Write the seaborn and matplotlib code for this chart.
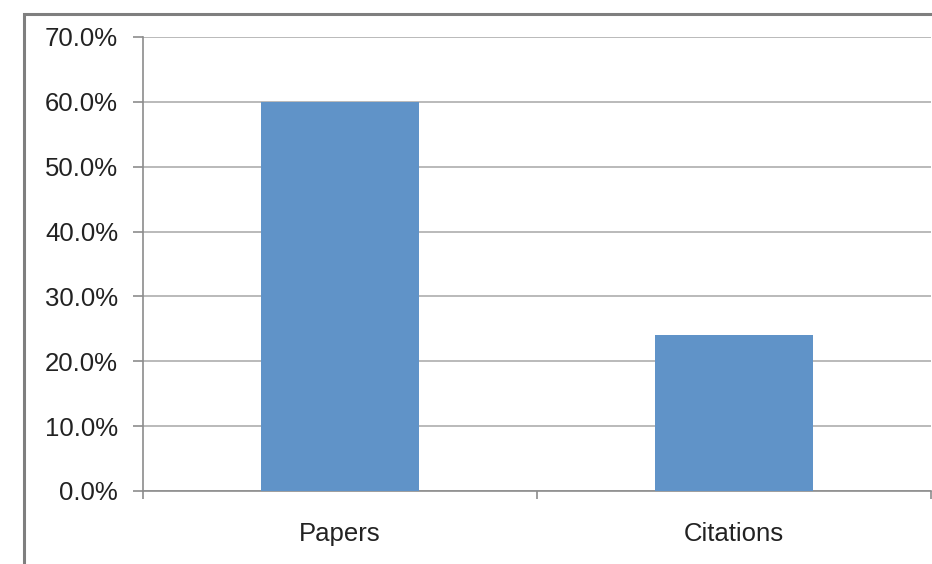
"""
plot.py
share of papers vs citations, single bar chart
"""
import matplotlib
matplotlib.use("Agg")
import matplotlib.pyplot as plt
import seaborn as sns
import pandas as pd
from matplotlib.ticker import PercentFormatter, FixedLocator
from matplotlib.patches import Rectangle

categories = ["Papers", "Citations"]
values = [60.0, 24.0]
y_ticks = [0, 10, 20, 30, 40, 50, 60, 70]

df = pd.DataFrame({"category": categories, "value": values})

sns.set_style("white")
plt.rcParams['font.family'] = ['Liberation Sans', 'DejaVu Sans']

fig = plt.figure(figsize=(9.32, 5.64), dpi=100)
ax = fig.add_axes([143 / 932, 1 - 491 / 564, (931 - 143) / 932, (491 - 37) / 564])

sns.barplot(data=df, x="category", y="value", color="#6093c8", width=0.4,
            saturation=1, linewidth=0, ax=ax, zorder=3)

ax.set_xlim(-0.5, 1.5)
ax.set_ylim(0, 70)
ax.set_yticks(y_ticks)
ax.yaxis.set_major_formatter(PercentFormatter(decimals=1))
ax.set_xlabel("")
ax.set_ylabel("")

# gridlines + axes in the excel-ish gray
ax.grid(axis="y", color="#b4b4b4", linewidth=1.3, zorder=0)
ax.grid(axis="x", visible=False)
for s in ["top", "right"]:
    ax.spines[s].set_visible(False)
for s in ["left", "bottom"]:
    ax.spines[s].set_color("#8c8c8c")
    ax.spines[s].set_linewidth(1.2)

ax.tick_params(axis="y", direction="out", length=7, width=1.2, color="#8c8c8c",
               pad=11, labelsize=18.5, labelcolor="#222222", left=True)
# category boundaries get the tick marks, labels sit in the middle
ax.xaxis.set_minor_locator(FixedLocator([-0.5, 0.5, 1.5]))
ax.tick_params(axis="x", which="minor", direction="out", length=6, width=1.2,
               color="#8c8c8c", bottom=True)
ax.tick_params(axis="x", which="major", length=0, pad=22, labelsize=18.5,
               labelcolor="#222222")

# outer chart frame (cut off at right and bottom)
fig.patches.append(Rectangle((24 / 932, -0.1), 1.2, 1 - 14 / 564 + 0.1,
                             transform=fig.transFigure, fill=False,
                             edgecolor="#7f7f7f", linewidth=2.2))

fig.savefig("out.png", dpi=100)
